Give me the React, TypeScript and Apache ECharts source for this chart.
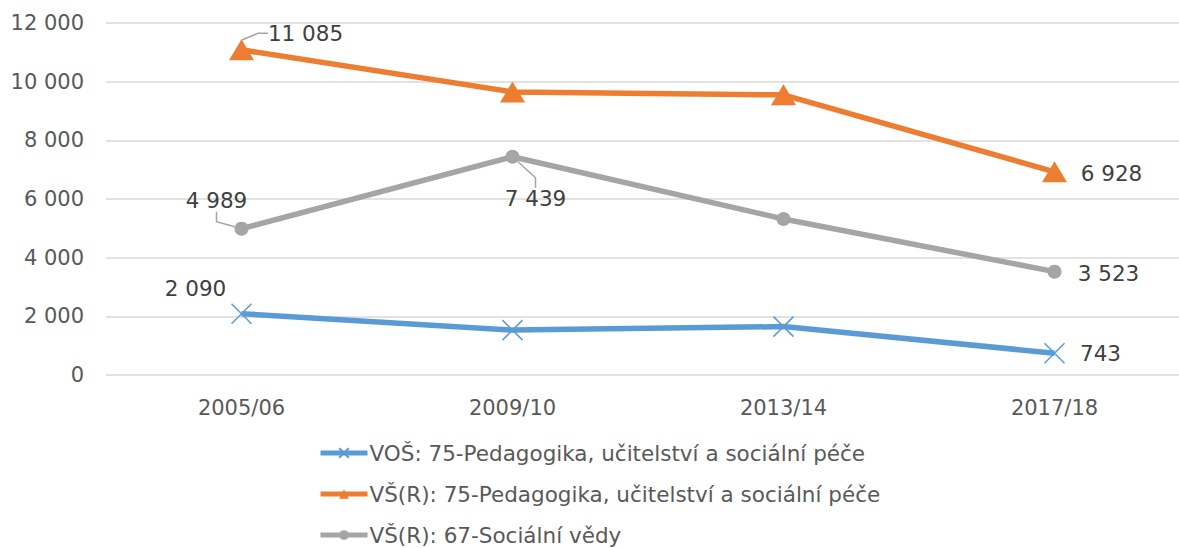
import React, { useEffect, useRef } from "react";
import * as echarts from "echarts";

const categories = ["2005/06", "2009/10", "2013/14", "2017/18"];
const seriesNames = [
  "VOŠ: 75-Pedagogika, učitelství a sociální péče",
  "VŠ(R): 75-Pedagogika, učitelství a sociální péče",
  "VŠ(R): 67-Sociální vědy",
];
const vosValues = [2090, 1530, 1650, 743];
const vsPedValues = [11085, 9650, 9550, 6928];
const vsSocValues = [4989, 7439, 5320, 3523];
// which points carry a data label
const vosLabeled = [true, false, false, true];
const vsPedLabeled = [true, false, false, true];
const vsSocLabeled = [true, true, false, true];
const yTicks = { min: 0, max: 12000, interval: 2000 };

// label displacement (layout only)
const labelShift: Record<string, [number, number, boolean]> = {
  "0-0": [-46, 2, false],
  "0-3": [46, 27, false],
  "1-0": [64, 10, true],
  "1-3": [57, 28, false],
  "2-0": [-25, -5, true],
  "2-1": [23, 65, true],
  "2-3": [54, 25, false],
};

const FONT = "DejaVu Sans";
const fmt = (v: number) => String(v).replace(/\B(?=(\d{3})+(?!\d))/g, " ");

export default function App() {
  const ref = useRef<HTMLDivElement>(null);
  useEffect(() => {
    document.body.style.margin = "0";
    const chart = echarts.init(ref.current!, null, { renderer: "svg" });
    const mk = (vals: number[], labeled: boolean[], si: number) =>
      vals.map((v, i) => {
        const sh = labelShift[`${si}-${i}`];
        return {
          value: v,
          label: { show: labeled[i] },
          labelLine: { show: !!(sh && sh[2]) },
        };
      });
    const labelLayout = (si: number) => (params: any) => {
      const sh = labelShift[`${si}-${params.dataIndex}`];
      if (!sh) return {};
      return { dx: sh[0], dy: sh[1] };
    };
    const commonLabel = {
      show: false,
      position: "top",
      distance: 5,
      color: "#404040",
      fontFamily: FONT,
      fontSize: 21.5,
      formatter: (p: any) => fmt(p.value),
    };
    const labelLine = { lineStyle: { color: "#A5A5A5", width: 1.5 }, length2: 10 };
    const colors = ["#5B9BD5", "#ED7D31", "#A5A5A5"];
    chart.setOption({
      animation: false,
      color: colors,
      textStyle: { fontFamily: FONT },
      grid: { left: 106, top: 23, width: 1084, height: 352, containLabel: false },
      legend: {
        orient: "vertical",
        left: 318,
        top: 442,
        padding: 0,
        height: 200,
        itemWidth: 47,
        itemHeight: 12,
        itemGap: 19,
        lineStyle: { width: 5 },
        textStyle: { color: "#595959", fontSize: 21.5, fontFamily: FONT, padding: [0, 0, 0, -3] },
        data: seriesNames,
      },
      xAxis: {
        type: "category",
        data: categories,
        boundaryGap: true,
        axisLine: { show: false },
        axisTick: { show: false },
        axisLabel: { color: "#595959", fontSize: 21, fontFamily: FONT, margin: 22 },
      },
      yAxis: {
        type: "value",
        min: yTicks.min,
        max: yTicks.max,
        interval: yTicks.interval,
        axisLine: { show: false },
        axisTick: { show: false },
        splitLine: { lineStyle: { color: "#D9D9D9", width: 1.5 } },
        axisLabel: {
          color: "#595959",
          fontSize: 21,
          fontFamily: FONT,
          margin: 22,
          formatter: (v: number) => fmt(v),
        },
      },
      series: [
        {
          name: seriesNames[0],
          type: "line",
          data: mk(vosValues, vosLabeled, 0),
          symbol: "path://M0,0L10,10M10,0L0,10",
          symbolSize: 20,
          showAllSymbol: true,
          lineStyle: { width: 5.5, color: colors[0] },
          itemStyle: { color: colors[0], borderColor: colors[0], borderWidth: 1.5 },
          label: commonLabel,
          labelLine,
          labelLayout: labelLayout(0),
          z: 3,
        },
        {
          name: seriesNames[1],
          type: "line",
          data: mk(vsPedValues, vsPedLabeled, 1),
          symbol: "triangle",
          symbolSize: [25, 21],
          showAllSymbol: true,
          lineStyle: { width: 5.5, color: colors[1] },
          itemStyle: { color: colors[1] },
          label: commonLabel,
          labelLine,
          labelLayout: labelLayout(1),
          z: 2,
        },
        {
          name: seriesNames[2],
          type: "line",
          data: mk(vsSocValues, vsSocLabeled, 2),
          symbol: "circle",
          symbolSize: 14,
          showAllSymbol: true,
          lineStyle: { width: 5.5, color: colors[2] },
          itemStyle: { color: colors[2] },
          label: commonLabel,
          labelLine,
          labelLayout: labelLayout(2),
          z: 2,
        },
      ],
    });
    return () => chart.dispose();
  }, []);
  return (
    <div style={{ width: 1179, height: 548, overflow: "hidden" }}>
      <div ref={ref} style={{ width: 1200, height: 548 }} />
    </div>
  );
}
